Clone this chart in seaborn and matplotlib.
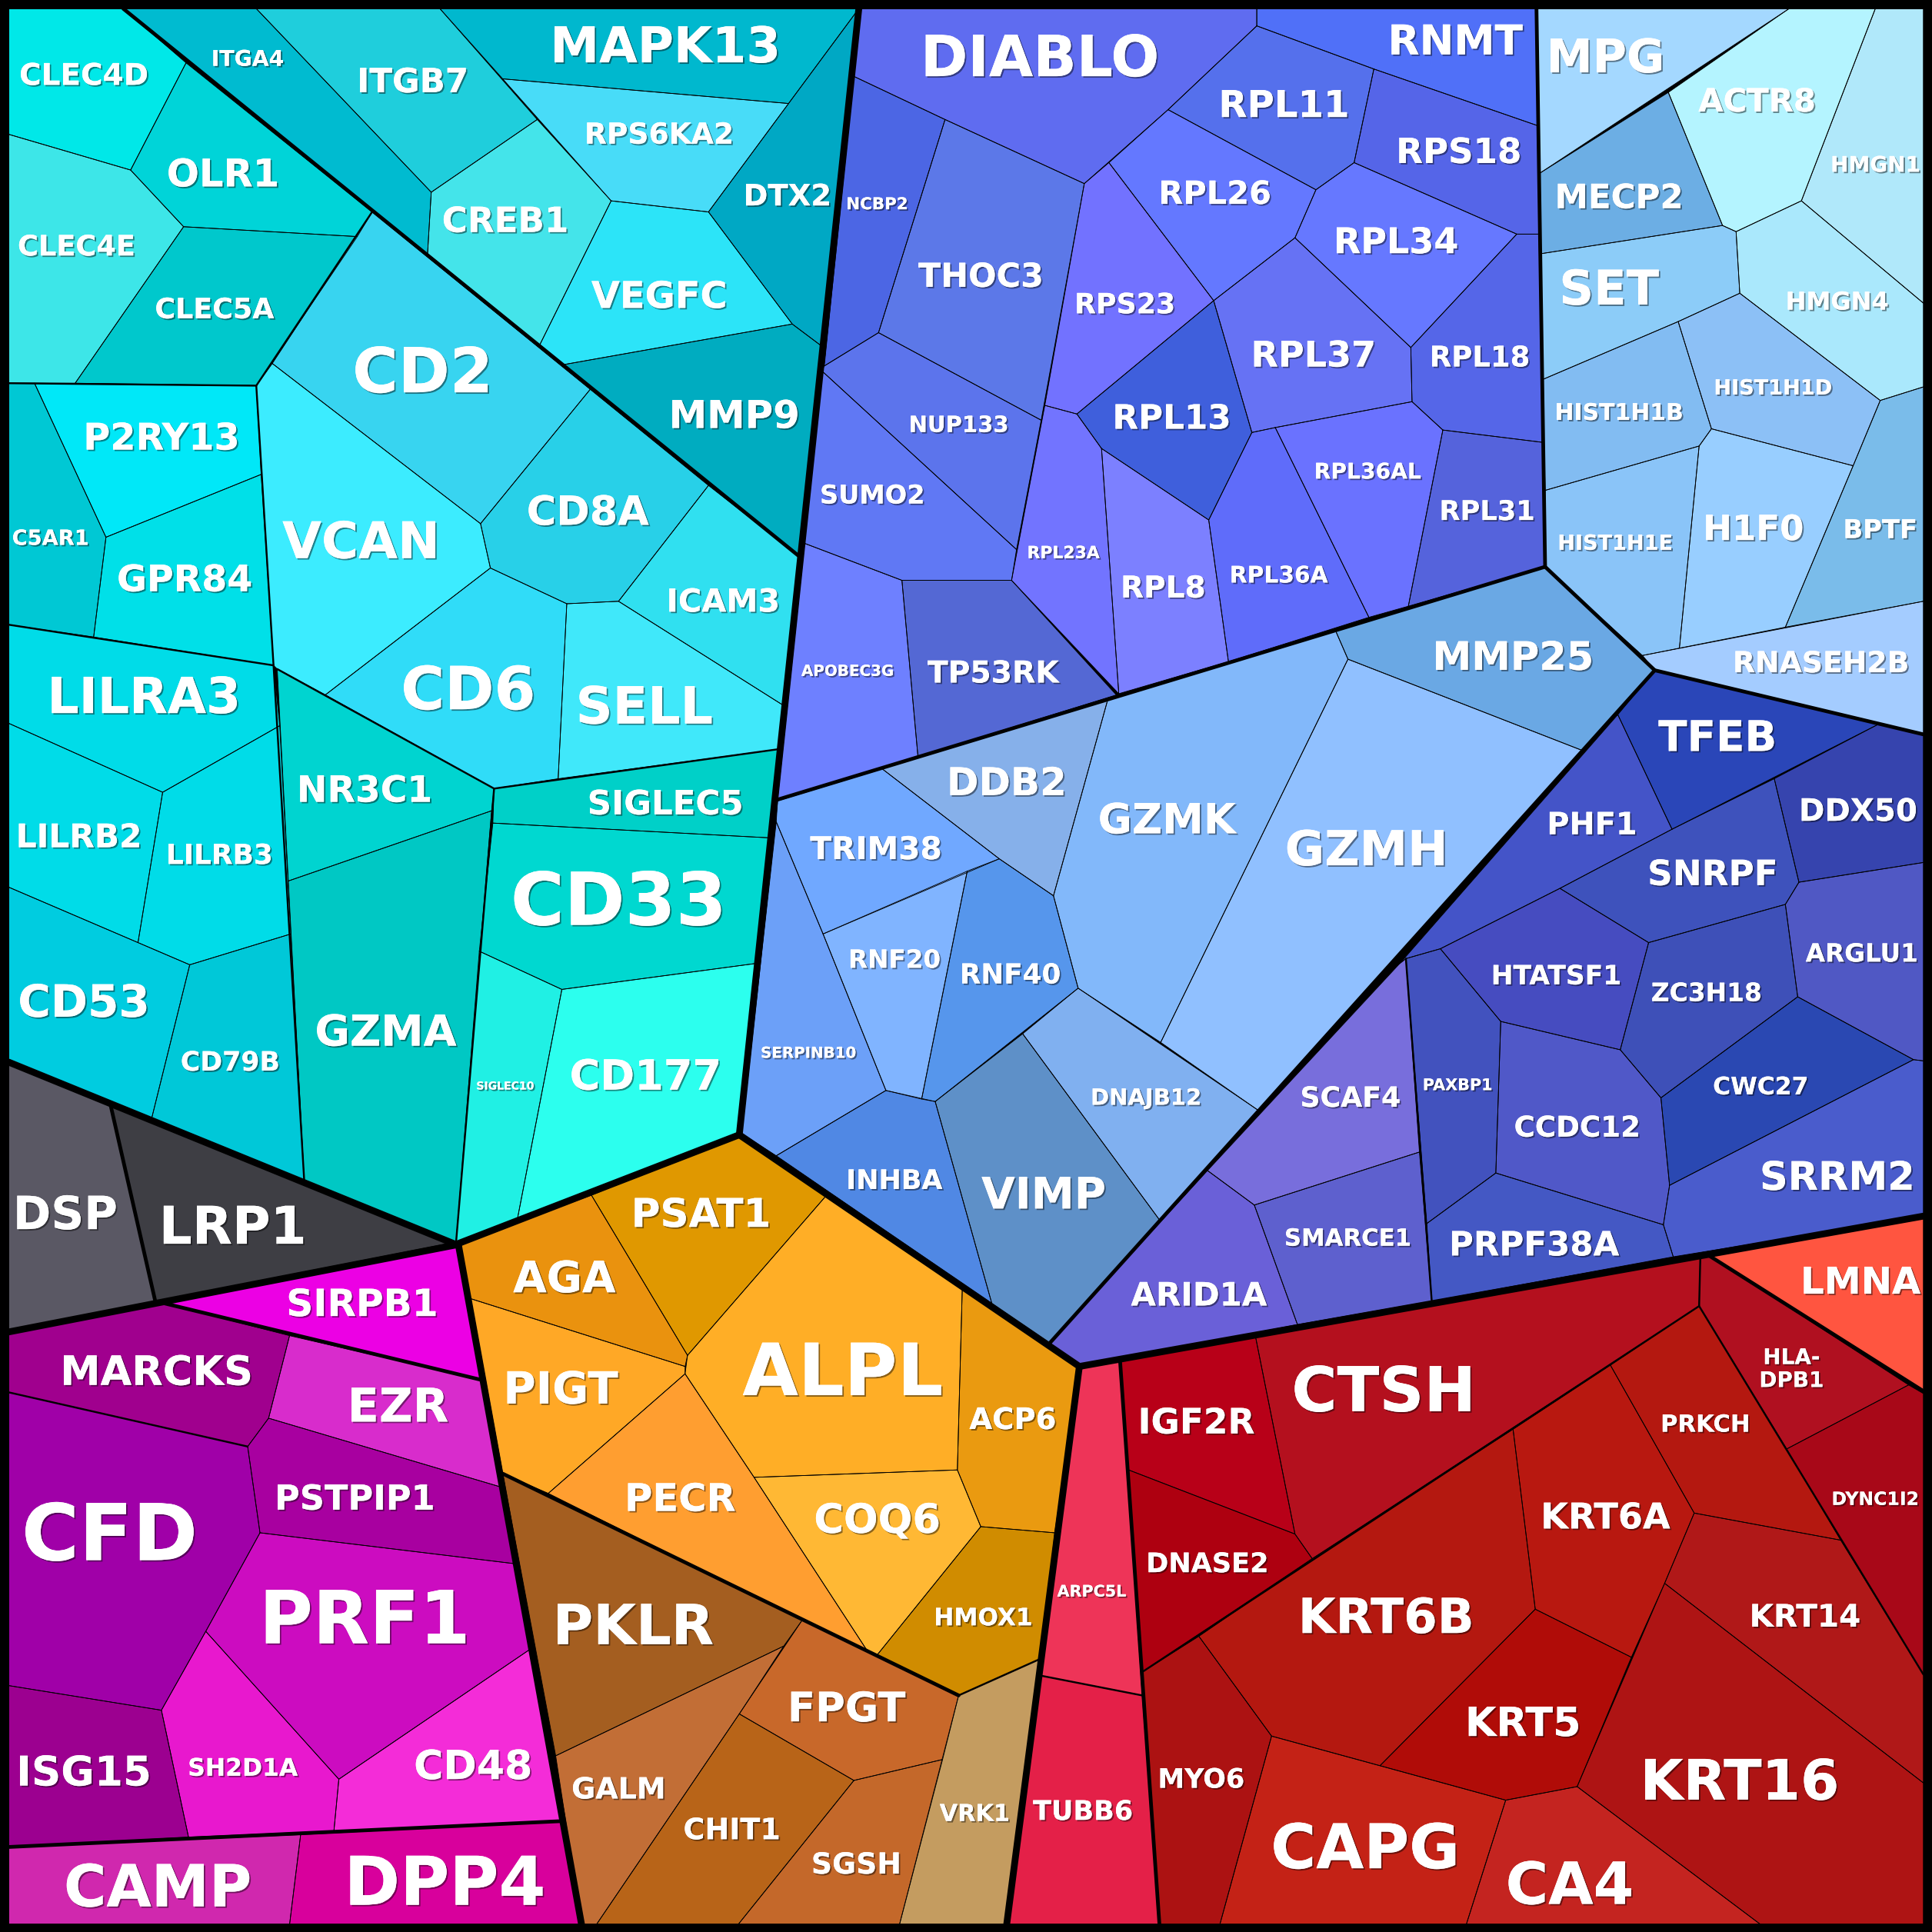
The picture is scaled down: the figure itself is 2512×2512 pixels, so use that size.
import pandas as pd
import matplotlib
matplotlib.use("Agg")
import matplotlib.pyplot as plt
import matplotlib.patheffects as pe
from matplotlib.font_manager import FontProperties
from matplotlib.textpath import TextPath
import seaborn as sns

cyan_names = ["ITGA4", "ITGB7", "MAPK13", "RPS6KA2", "CREB1", "VEGFC", "DTX2", "MMP9", "CLEC4D", "OLR1", "CLEC4E",
              "CLEC5A", "CD2", "VCAN", "CD8A", "ICAM3", "SELL", "CD6", "P2RY13", "C5AR1", "GPR84", "LILRA3", "LILRB2",
              "LILRB3", "CD53", "CD79B", "NR3C1", "GZMA", "SIGLEC5", "CD33", "SIGLEC10", "CD177"]
cyan_colors = ["#00BBD0", "#1FCEDC", "#00B8CE", "#48DCF8", "#44E4EA", "#2CE4F8", "#00A8C4", "#00ACC0", "#00E8E8",
               "#00D4D8", "#3DE6E8", "#00C8CC", "#38D4F0", "#3CECFF", "#28D0E8", "#30E0F0", "#40E8FA", "#30DCF8",
               "#00E8F8", "#00C8D4", "#00E0E8", "#00DCE8", "#00DCE8", "#00DCE8", "#00CCE0", "#00C8D8", "#00D4D0",
               "#00C8C4", "#00D0C8", "#00D8D0", "#20F0E4", "#2CFFEE"]
cyan_polys = [
    [(100, 7), (208, 7), (350, 156), (347, 206)],
    [(208, 7), (357, 7), (436, 97), (350, 156)],
    [(357, 7), (697, 7), (640, 84), (408, 64)],
    [(408, 64), (640, 84), (575, 172), (496, 163)],
    [(350, 156), (436, 97), (496, 163), (438, 280), (347, 206)],
    [(496, 163), (575, 172), (643, 263), (457, 296), (438, 280)],
    [(640, 84), (697, 7), (667, 281), (643, 263), (575, 172)],
    [(457, 296), (643, 263), (667, 281), (648, 451)],
    [(7, 7), (100, 7), (151, 51), (106, 138), (7, 109)],
    [(151, 51), (302, 172), (290, 192), (149, 184), (106, 138)],
    [(7, 109), (106, 138), (149, 184), (61, 311), (7, 311)],
    [(149, 184), (290, 192), (208, 313), (61, 311)],
    [(302, 172), (479, 316), (390, 425), (221, 295)],
    [(221, 295), (390, 425), (398, 461), (264, 564), (225, 543), (222, 540), (208, 313)],
    [(479, 316), (575, 394), (502, 488), (460, 490), (398, 461), (390, 425)],
    [(575, 394), (648, 451), (635, 572), (502, 488)],
    [(460, 490), (502, 488), (635, 572), (632, 608), (453, 632)],
    [(398, 461), (460, 490), (453, 632), (401, 640), (264, 564)],
    [(28, 311), (208, 313), (212, 385), (86, 436)],
    [(7, 311), (28, 311), (86, 436), (76, 517), (7, 507)],
    [(86, 436), (212, 385), (222, 540), (76, 517)],
    [(7, 507), (222, 540), (227, 589), (132, 643), (7, 587)],
    [(7, 587), (132, 643), (112, 765), (7, 720)],
    [(132, 643), (227, 589), (236, 758), (154, 783), (112, 765)],
    [(7, 720), (112, 765), (154, 783), (123, 908), (7, 862)],
    [(154, 783), (236, 758), (247, 960), (123, 908)],
    [(225, 543), (264, 564), (401, 640), (399, 658), (234, 715)],
    [(234, 715), (399, 658), (370, 1010), (247, 960)],
    [(401, 640), (632, 608), (625, 680), (400, 668)],
    [(400, 668), (625, 680), (613, 782), (456, 803), (389, 772)],
    [(389, 772), (456, 803), (420, 989), (370, 1010)],
    [(456, 803), (613, 782), (600, 921), (420, 989)],
]
cyan_labels = [(201, 47, 58), (335, 65, 88), (540, 36, 185), (535, 108, 120), (410, 178, 102), (535, 239, 111),
               (639, 158, 69), (596, 336, 104), (68, 60, 105), (181, 140, 90), (62, 199, 95), (174, 250, 98),
               (343, 300, 110), (293, 438, 127), (477, 414, 100), (587, 487, 90), (523, 572, 110), (380, 558, 107),
               (131, 354, 125), (41, 436, 62), (150, 469, 110), (117, 564, 154), (64, 678, 100), (178, 693, 85),
               (68, 812, 105), (187, 861, 80), (296, 640, 108), (313, 836, 116), (540, 651, 126), (502, 729, 172),
               (410, 881, 47), (524, 872, 122)]

magenta_names = ["DSP", "LRP1", "SIRPB1", "MARCKS", "EZR", "CFD", "PSTPIP1", "PRF1", "SH2D1A", "CD48", "ISG15", "CAMP",
                 "DPP4"]
magenta_colors = ["#5A5864", "#3E3E44", "#EC00E4", "#A0008E", "#D82CCC", "#A000A8", "#A800A0", "#CC0CC0", "#E818CE",
                  "#F42CD8", "#9C0090", "#D028AE", "#D8009C"]
magenta_polys = [
    [(7, 862), (90, 898), (126, 1056), (7, 1081)],
    [(90, 898), (370, 1008), (126, 1056)],
    [(126, 1056), (372, 1010), (391, 1120)],
    [(7, 1081), (126, 1056), (235, 1084), (218, 1151), (201, 1174), (7, 1130)],
    [(235, 1084), (391, 1120), (407, 1207), (218, 1151)],
    [(7, 1130), (201, 1174), (211, 1244), (167, 1324), (131, 1388), (7, 1368)],
    [(218, 1151), (407, 1207), (417, 1269), (211, 1244), (201, 1174)],
    [(211, 1244), (417, 1269), (431, 1338), (275, 1444), (167, 1324)],
    [(167, 1324), (275, 1444), (271, 1486), (153, 1491), (131, 1388)],
    [(431, 1338), (456, 1478), (271, 1486), (275, 1444)],
    [(7, 1368), (131, 1388), (153, 1491), (7, 1499)],
    [(7, 1499), (244, 1489), (235, 1562), (7, 1562)],
    [(244, 1489), (456, 1478), (472, 1562), (235, 1562)],
]
magenta_labels = [(53, 984, 82), (189, 994, 116), (294, 1057, 122), (127, 1112, 155), (323, 1140, 80), (89, 1243, 140),
                  (288, 1215, 129), (296, 1312, 166), (197, 1434, 90), (384, 1432, 95), (68, 1437, 107),
                  (128, 1530, 152), (361, 1526, 160)]

orange_names = ["PSAT1", "AGA", "PIGT", "ALPL", "ACP6", "COQ6", "PECR", "HMOX1", "PKLR", "FPGT", "GALM", "CHIT1", "SGSH",
                "VRK1"]
orange_colors = ["#E09800", "#EA920E", "#FFA826", "#FFAE26", "#EA9A10", "#FFB834", "#FF9E30", "#D08C00", "#A45E20",
                 "#C8682A", "#C26E36", "#B86418", "#C4682A", "#C49C60"]
orange_polys = [
    [(480, 970), (600, 921), (670, 971), (558, 1100)],
    [(372, 1010), (480, 970), (558, 1100), (556, 1109), (382, 1054)],
    [(382, 1054), (556, 1109), (556, 1115), (445, 1212), (408, 1196)],
    [(670, 971), (781, 1045), (777, 1193), (612, 1199), (556, 1115), (558, 1100)],
    [(781, 1045), (876, 1109), (856, 1244), (796, 1239), (777, 1193)],
    [(612, 1199), (777, 1193), (796, 1239), (712, 1343), (704, 1340)],
    [(556, 1115), (612, 1199), (704, 1340), (651, 1315), (445, 1212)],
    [(712, 1343), (796, 1239), (856, 1244), (845, 1346), (778, 1376)],
    [(408, 1196), (651, 1315), (636, 1336), (451, 1425)],
    [(651, 1315), (778, 1376), (765, 1428), (693, 1445), (600, 1391)],
    [(451, 1425), (636, 1336), (600, 1391), (484, 1562), (472, 1562)],
    [(600, 1391), (693, 1445), (599, 1562), (484, 1562)],
    [(693, 1445), (765, 1428), (730, 1562), (599, 1562)],
    [(778, 1376), (845, 1346), (817, 1562), (730, 1562)],
]
orange_labels = [(569, 984, 111), (458, 1036, 85), (455, 1126, 92), (684, 1111, 165), (822, 1151, 71), (712, 1232, 102),
                 (552, 1215, 89), (798, 1312, 79), (514, 1318, 129), (687, 1385, 95), (502, 1451, 75), (594, 1484, 78),
                 (695, 1512, 71), (791, 1471, 57)]

red_names = ["ARPC5L", "TUBB6", "IGF2R", "DNASE2", "CTSH", "LMNA", "HLA-\nDPB1", "DYNC1I2", "PRKCH", "KRT6A", "KRT14",
             "KRT16", "KRT5", "KRT6B", "MYO6", "CAPG", "CA4"]
red_colors = ["#EE3458", "#E42048", "#B80018", "#AE0010", "#B4101E", "#FF5540", "#B01020", "#A80818", "#B41810",
              "#B81810", "#B01818", "#AE1414", "#B00C08", "#B41810", "#AC1212", "#C42216", "#C42420"]
red_polys = [
    [(876, 1109), (909, 1104), (927, 1376), (845, 1360)],
    [(845, 1360), (927, 1376), (941, 1562), (817, 1562)],
    [(909, 1104), (1019, 1085), (1051, 1245), (916, 1193)],
    [(916, 1193), (1051, 1245), (1065, 1265), (927, 1357)],
    [(1019, 1085), (1380, 1020), (1379, 1060), (1065, 1265), (1051, 1245)],
    [(1387, 1019), (1561, 987), (1561, 1129)],
    [(1380, 1020), (1387, 1019), (1549, 1124), (1450, 1176), (1379, 1060)],
    [(1549, 1124), (1561, 1131), (1561, 1359), (1494, 1250), (1450, 1176)],
    [(1379, 1060), (1450, 1176), (1494, 1250), (1375, 1228), (1307, 1108)],
    [(1307, 1108), (1375, 1228), (1351, 1285), (1324, 1345), (1246, 1306), (1228, 1160)],
    [(1375, 1228), (1494, 1250), (1561, 1359), (1561, 1447), (1351, 1285)],
    [(1351, 1285), (1561, 1447), (1561, 1562), (1429, 1562), (1280, 1450)],
    [(1246, 1306), (1324, 1345), (1280, 1450), (1222, 1461), (1120, 1433)],
    [(1065, 1265), (1228, 1160), (1246, 1306), (1120, 1433), (1032, 1409), (973, 1328)],
    [(927, 1357), (973, 1328), (1032, 1409), (990, 1562), (941, 1562)],
    [(1032, 1409), (1222, 1461), (1190, 1562), (990, 1562)],
    [(1222, 1461), (1280, 1450), (1429, 1562), (1190, 1562)],
]
red_labels = [(886, 1291, 57), (879, 1469, 82), (971, 1153, 94), (980, 1268, 98), (1123, 1127, 146), (1510, 1039, 97),
              (1454, 1110, 51), (1522, 1216, 70), (1384, 1155, 71), (1303, 1230, 105), (1465, 1311, 89),
              (1412, 1444, 159), (1236, 1397, 91), (1125, 1311, 140), (975, 1443, 69), (1108, 1498, 151),
              (1274, 1528, 102)]

ribo_names = ["DIABLO", "RNMT", "RPL11", "RPS18", "RPL26", "RPL34", "RPL18", "RPL37", "RPS23", "RPL13", "RPL36AL",
              "RPL31", "RPL36A", "RPL8", "RPL23A", "THOC3", "NCBP2", "NUP133", "SUMO2", "APOBEC3G", "TP53RK"]
ribo_colors = ["#5F6CF0", "#5070F8", "#5570EC", "#5565E8", "#6478FF", "#6678FF", "#5566E8", "#6672F4", "#7272FF",
               "#3F5FDC", "#6A72FF", "#5563DC", "#5F6CFA", "#7C80FF", "#7274FF", "#5C78E8", "#4C66E4", "#5C74EC",
               "#6078F4", "#6E80FF", "#5468D4"]
ribo_polys = [
    [(697, 7), (1020, 7), (1020, 21), (948, 89), (880, 149), (767, 97), (693, 62)],
    [(1020, 7), (1247, 7), (1248, 102), (1115, 56), (1020, 21)],
    [(1020, 21), (1115, 56), (1099, 132), (1068, 154), (948, 89)],
    [(1115, 56), (1248, 102), (1249, 190), (1231, 190), (1099, 132)],
    [(948, 89), (1068, 154), (1051, 193), (985, 244), (900, 132)],
    [(1099, 132), (1231, 190), (1145, 282), (1051, 193), (1068, 154)],
    [(1231, 190), (1249, 190), (1252, 359), (1171, 349), (1146, 326), (1145, 282)],
    [(985, 244), (1051, 193), (1145, 282), (1146, 326), (1035, 347), (1016, 351)],
    [(880, 149), (900, 132), (985, 244), (874, 336), (848, 329)],
    [(985, 244), (1016, 351), (981, 422), (894, 364), (874, 336)],
    [(1035, 347), (1146, 326), (1171, 349), (1143, 492), (1111, 501)],
    [(1171, 349), (1252, 359), (1254, 460), (1143, 492)],
    [(1016, 351), (1035, 347), (1111, 501), (997, 537), (981, 422)],
    [(894, 364), (981, 422), (997, 537), (908, 563)],
    [(848, 329), (874, 336), (894, 364), (908, 563), (821, 471)],
    [(767, 97), (880, 149), (845, 341), (713, 270)],
    [(693, 62), (767, 97), (713, 270), (669, 297)],
    [(669, 297), (713, 270), (845, 341), (825, 446), (667, 301)],
    [(667, 301), (825, 446), (821, 471), (732, 471), (653, 441)],
    [(653, 441), (732, 471), (745, 614), (631, 649)],
    [(732, 471), (821, 471), (906, 564), (745, 614)],
]
ribo_labels = [(844, 45, 192), (1181, 32, 109), (1042, 84, 104), (1184, 122, 100), (986, 156, 90), (1133, 195, 100),
               (1201, 289, 80), (1066, 287, 99), (913, 246, 80), (951, 338, 94), (1110, 382, 87), (1207, 414, 76),
               (1038, 466, 80), (944, 476, 67), (863, 448, 59), (796, 223, 102), (712, 165, 49), (778, 344, 80),
               (708, 401, 84), (688, 544, 76), (806, 545, 110)]

gzm_names = ["DDB2", "TRIM38", "RNF20", "RNF40", "SERPINB10", "INHBA", "VIMP", "DNAJB12", "GZMK", "GZMH", "MMP25"]
gzm_colors = ["#86B0EA", "#70A8FF", "#80B4FF", "#5696EC", "#6CA0F8", "#5088E4", "#5E90C8", "#80B0F0", "#82B8FA",
              "#90C0FF", "#6AA8E4"]
gzm_polys = [
    [(716, 624), (899, 568), (855, 727), (811, 697)],
    [(631, 650), (716, 624), (811, 697), (668, 758), (630, 667)],
    [(668, 758), (785, 707), (748, 892), (719, 885)],
    [(785, 707), (811, 697), (855, 727), (875, 802), (759, 894), (748, 892)],
    [(630, 667), (668, 758), (719, 885), (630, 938), (602, 920)],
    [(630, 938), (719, 885), (759, 894), (805, 1058)],
    [(759, 894), (830, 839), (941, 990), (852, 1090), (805, 1058)],
    [(830, 839), (875, 802), (1021, 901), (941, 990)],
    [(899, 568), (1084, 512), (1094, 535), (942, 846), (875, 802), (855, 727)],
    [(1094, 535), (1284, 609), (1021, 901), (942, 846)],
    [(1084, 512), (1254, 460), (1343, 544), (1284, 609), (1094, 535)],
]
gzm_labels = [(817, 634, 94), (711, 688, 108), (726, 778, 74), (820, 790, 81), (656, 854, 78), (726, 957, 78),
              (847, 968, 102), (930, 890, 89), (947, 664, 114), (1109, 688, 130), (1228, 532, 129)]

hist_names = ["MPG", "ACTR8", "MECP2", "HMGN1", "HMGN4", "SET", "HIST1H1B", "HIST1H1D", "HIST1H1E", "H1F0", "BPTF",
              "RNASEH2B"]
hist_colors = ["#A4D8FF", "#B4F4FF", "#6CAEE4", "#B0E8FA", "#AAE8FC", "#8CCCF8", "#82BCF2", "#8CC0F6", "#8AC4F8",
               "#98CEFF", "#7ABCEA", "#A4CCFF"]
hist_polys = [
    [(1247, 7), (1452, 7), (1249, 141)],
    [(1354, 75), (1452, 7), (1522, 7), (1462, 163), (1409, 188), (1398, 183)],
    [(1249, 141), (1354, 75), (1398, 183), (1250, 206)],
    [(1522, 7), (1561, 7), (1561, 246), (1462, 163)],
    [(1462, 163), (1561, 246), (1561, 314), (1526, 325), (1412, 238), (1409, 188)],
    [(1250, 206), (1398, 183), (1409, 188), (1412, 238), (1362, 261), (1252, 308)],
    [(1252, 308), (1362, 261), (1389, 348), (1379, 362), (1254, 398)],
    [(1362, 261), (1412, 238), (1526, 325), (1504, 378), (1389, 348)],
    [(1254, 398), (1379, 362), (1363, 526), (1333, 532), (1254, 460)],
    [(1379, 362), (1389, 348), (1504, 378), (1449, 509), (1363, 526)],
    [(1526, 325), (1561, 314), (1561, 488), (1449, 509), (1504, 378)],
    [(1333, 532), (1561, 488), (1561, 596), (1343, 544)],
]
hist_labels = [(1303, 45, 92), (1426, 81, 96), (1314, 159, 102), (1522, 133, 72), (1491, 244, 83), (1306, 233, 80),
               (1314, 334, 104), (1439, 314, 96), (1311, 440, 93), (1423, 428, 80), (1526, 429, 58), (1478, 537, 143)]

splice_names = ["TFEB", "DDX50", "PHF1", "SNRPF", "ARGLU1", "HTATSF1", "ZC3H18", "CWC27", "SRRM2", "CCDC12", "PAXBP1",
                "PRPF38A", "SCAF4", "SMARCE1", "ARID1A"]
splice_colors = ["#2A46B8", "#3644AE", "#4454C8", "#3E52BC", "#5058C4", "#464CC0", "#3E50B8", "#2A48B2", "#4A5CCC",
                 "#5058C8", "#4252BE", "#4458C4", "#786EDC", "#5E60CE", "#6A60D8"]
splice_polys = [
    [(1343, 544), (1526, 587), (1357, 673), (1313, 580)],
    [(1526, 587), (1561, 596), (1561, 700), (1460, 716), (1440, 632)],
    [(1313, 580), (1357, 673), (1266, 721), (1169, 770), (1141, 778), (1136, 782)],
    [(1357, 673), (1440, 632), (1460, 716), (1449, 734), (1338, 765), (1266, 721)],
    [(1460, 716), (1561, 700), (1561, 861), (1553, 860), (1459, 809), (1449, 734)],
    [(1169, 770), (1266, 721), (1338, 765), (1315, 852), (1218, 829)],
    [(1338, 765), (1449, 734), (1459, 809), (1348, 891), (1315, 852)],
    [(1348, 891), (1459, 809), (1553, 860), (1355, 962)],
    [(1355, 962), (1553, 860), (1561, 861), (1561, 987), (1358, 1020), (1350, 994)],
    [(1218, 829), (1315, 852), (1348, 891), (1355, 962), (1350, 994), (1214, 952)],
    [(1141, 778), (1169, 770), (1218, 829), (1214, 952), (1158, 993)],
    [(1158, 993), (1214, 952), (1350, 994), (1358, 1020), (1162, 1056)],
    [(1136, 782), (1141, 778), (1152, 935), (1018, 978), (980, 950)],
    [(1018, 978), (1152, 935), (1162, 1056), (1053, 1075)],
    [(980, 950), (1018, 978), (1053, 1075), (876, 1109), (852, 1090)],
]
splice_labels = [(1394, 597, 96), (1508, 657, 95), (1292, 668, 71), (1390, 708, 104), (1511, 773, 92),
                 (1263, 791, 105), (1385, 805, 90), (1429, 881, 77), (1491, 954, 124), (1280, 914, 102),
                 (1183, 880, 56), (1245, 1009, 139), (1096, 890, 81), (1094, 1004, 103), (973, 1050, 113)]

# boundaries between the nested groups, thickest first
top_lines = [
    [(697, 7), (600, 921), (876, 1109), (817, 1562)],
    [(7, 862), (370, 1010), (600, 921)],
    [(7, 1081), (372, 1010), (472, 1562)],
    [(876, 1109), (1561, 987)],
]
mid_lines = [
    [(100, 7), (648, 451)],
    [(1247, 7), (1254, 460), (1343, 544), (852, 1090)],
    [(631, 649), (1254, 460)],
    [(1343, 544), (1561, 596)],
    [(90, 898), (126, 1056), (391, 1120)],
    [(7, 1499), (456, 1478)],
    [(408, 1196), (778, 1376)],
    [(909, 1104), (941, 1562)],
    [(1387, 1019), (1561, 1129)],
]
low_lines = [
    [(302, 172), (208, 313), (7, 311)],
    [(208, 313), (222, 540), (7, 507)],
    [(222, 540), (247, 960)],
    [(225, 543), (401, 640), (632, 608)],
    [(401, 640), (370, 1010)],
    [(1141, 778), (1162, 1056)],
    [(778, 1376), (845, 1346)],
    [(927, 1357), (1379, 1060), (1380, 1020)],
    [(1379, 1060), (1561, 1359)],
    [(845, 1360), (927, 1376)],
    [(7, 1130), (201, 1174)],
]

groups = [
    (cyan_names, cyan_colors, cyan_polys, cyan_labels),
    (magenta_names, magenta_colors, magenta_polys, magenta_labels),
    (orange_names, orange_colors, orange_polys, orange_labels),
    (red_names, red_colors, red_polys, red_labels),
    (ribo_names, ribo_colors, ribo_polys, ribo_labels),
    (gzm_names, gzm_colors, gzm_polys, gzm_labels),
    (hist_names, hist_colors, hist_polys, hist_labels),
    (splice_names, splice_colors, splice_polys, splice_labels),
]

sns.set_theme(style="white")
plt.rcParams["font.family"] = ["DejaVu Sans"]

SIDE = 1568
DPI = 200
PT = 2512 / SIDE / DPI * 72  # points per picture unit


def line_table(lines, closed=False):
    rows = []
    for i, line in enumerate(lines):
        pts = list(line) + [line[0]] if closed else line
        for order, (x, y) in enumerate(pts):
            rows.append({"line": i, "order": order, "x": x, "y": y})
    return pd.DataFrame(rows)


def draw_lines(ax, lines, width, closed=False):
    sns.lineplot(data=line_table(lines, closed), x="x", y="y", units="line", estimator=None, sort=False,
                 color="black", linewidth=width * PT, legend=False, ax=ax, solid_capstyle="round",
                 solid_joinstyle="round")


fig = plt.figure(figsize=(2512 / DPI, 2512 / DPI), dpi=DPI, facecolor="black")
ax = fig.add_axes([0, 0, 1, 1])
ax.set_facecolor("black")

fp = FontProperties(family="DejaVu Sans", weight="bold")
shadow = [pe.withSimplePatchShadow(offset=(0.7, -0.7), shadow_rgbFace="black", alpha=0.45), pe.Normal()]

all_polys = []
for names, colors, polys, labels in groups:
    for poly, color in zip(polys, colors):
        xs, ys = zip(*poly)
        ax.fill(xs, ys, color=color, linewidth=0)
    all_polys += polys

draw_lines(ax, all_polys, 0.55, closed=True)
draw_lines(ax, low_lines, 1.5)
draw_lines(ax, mid_lines, 3)
draw_lines(ax, top_lines, 5.5)
draw_lines(ax, [[(3, 3), (1565, 3), (1565, 1565), (3, 1565)]], 8, closed=True)

for names, colors, polys, labels in groups:
    for name, (cx, cy, w) in zip(names, labels):
        parts = name.split("\n")
        widest = max(TextPath((0, 0), p, size=10, prop=fp).get_extents().width for p in parts)
        size = 0.975 * 10 * w * PT / widest
        cap = 0.729 * size / PT
        step = 1.07 * size / PT
        top = cy - step * (len(parts) - 1) / 2
        for i, part in enumerate(parts):
            ax.text(cx, top + i * step + cap / 2, part, fontproperties=fp, fontsize=size, color="white",
                    ha="center", va="baseline", path_effects=shadow, zorder=10)

ax.set_xlim(0, SIDE)
ax.set_ylim(SIDE, 0)
ax.axis("off")
fig.savefig("out.png", dpi=DPI, facecolor="black")
